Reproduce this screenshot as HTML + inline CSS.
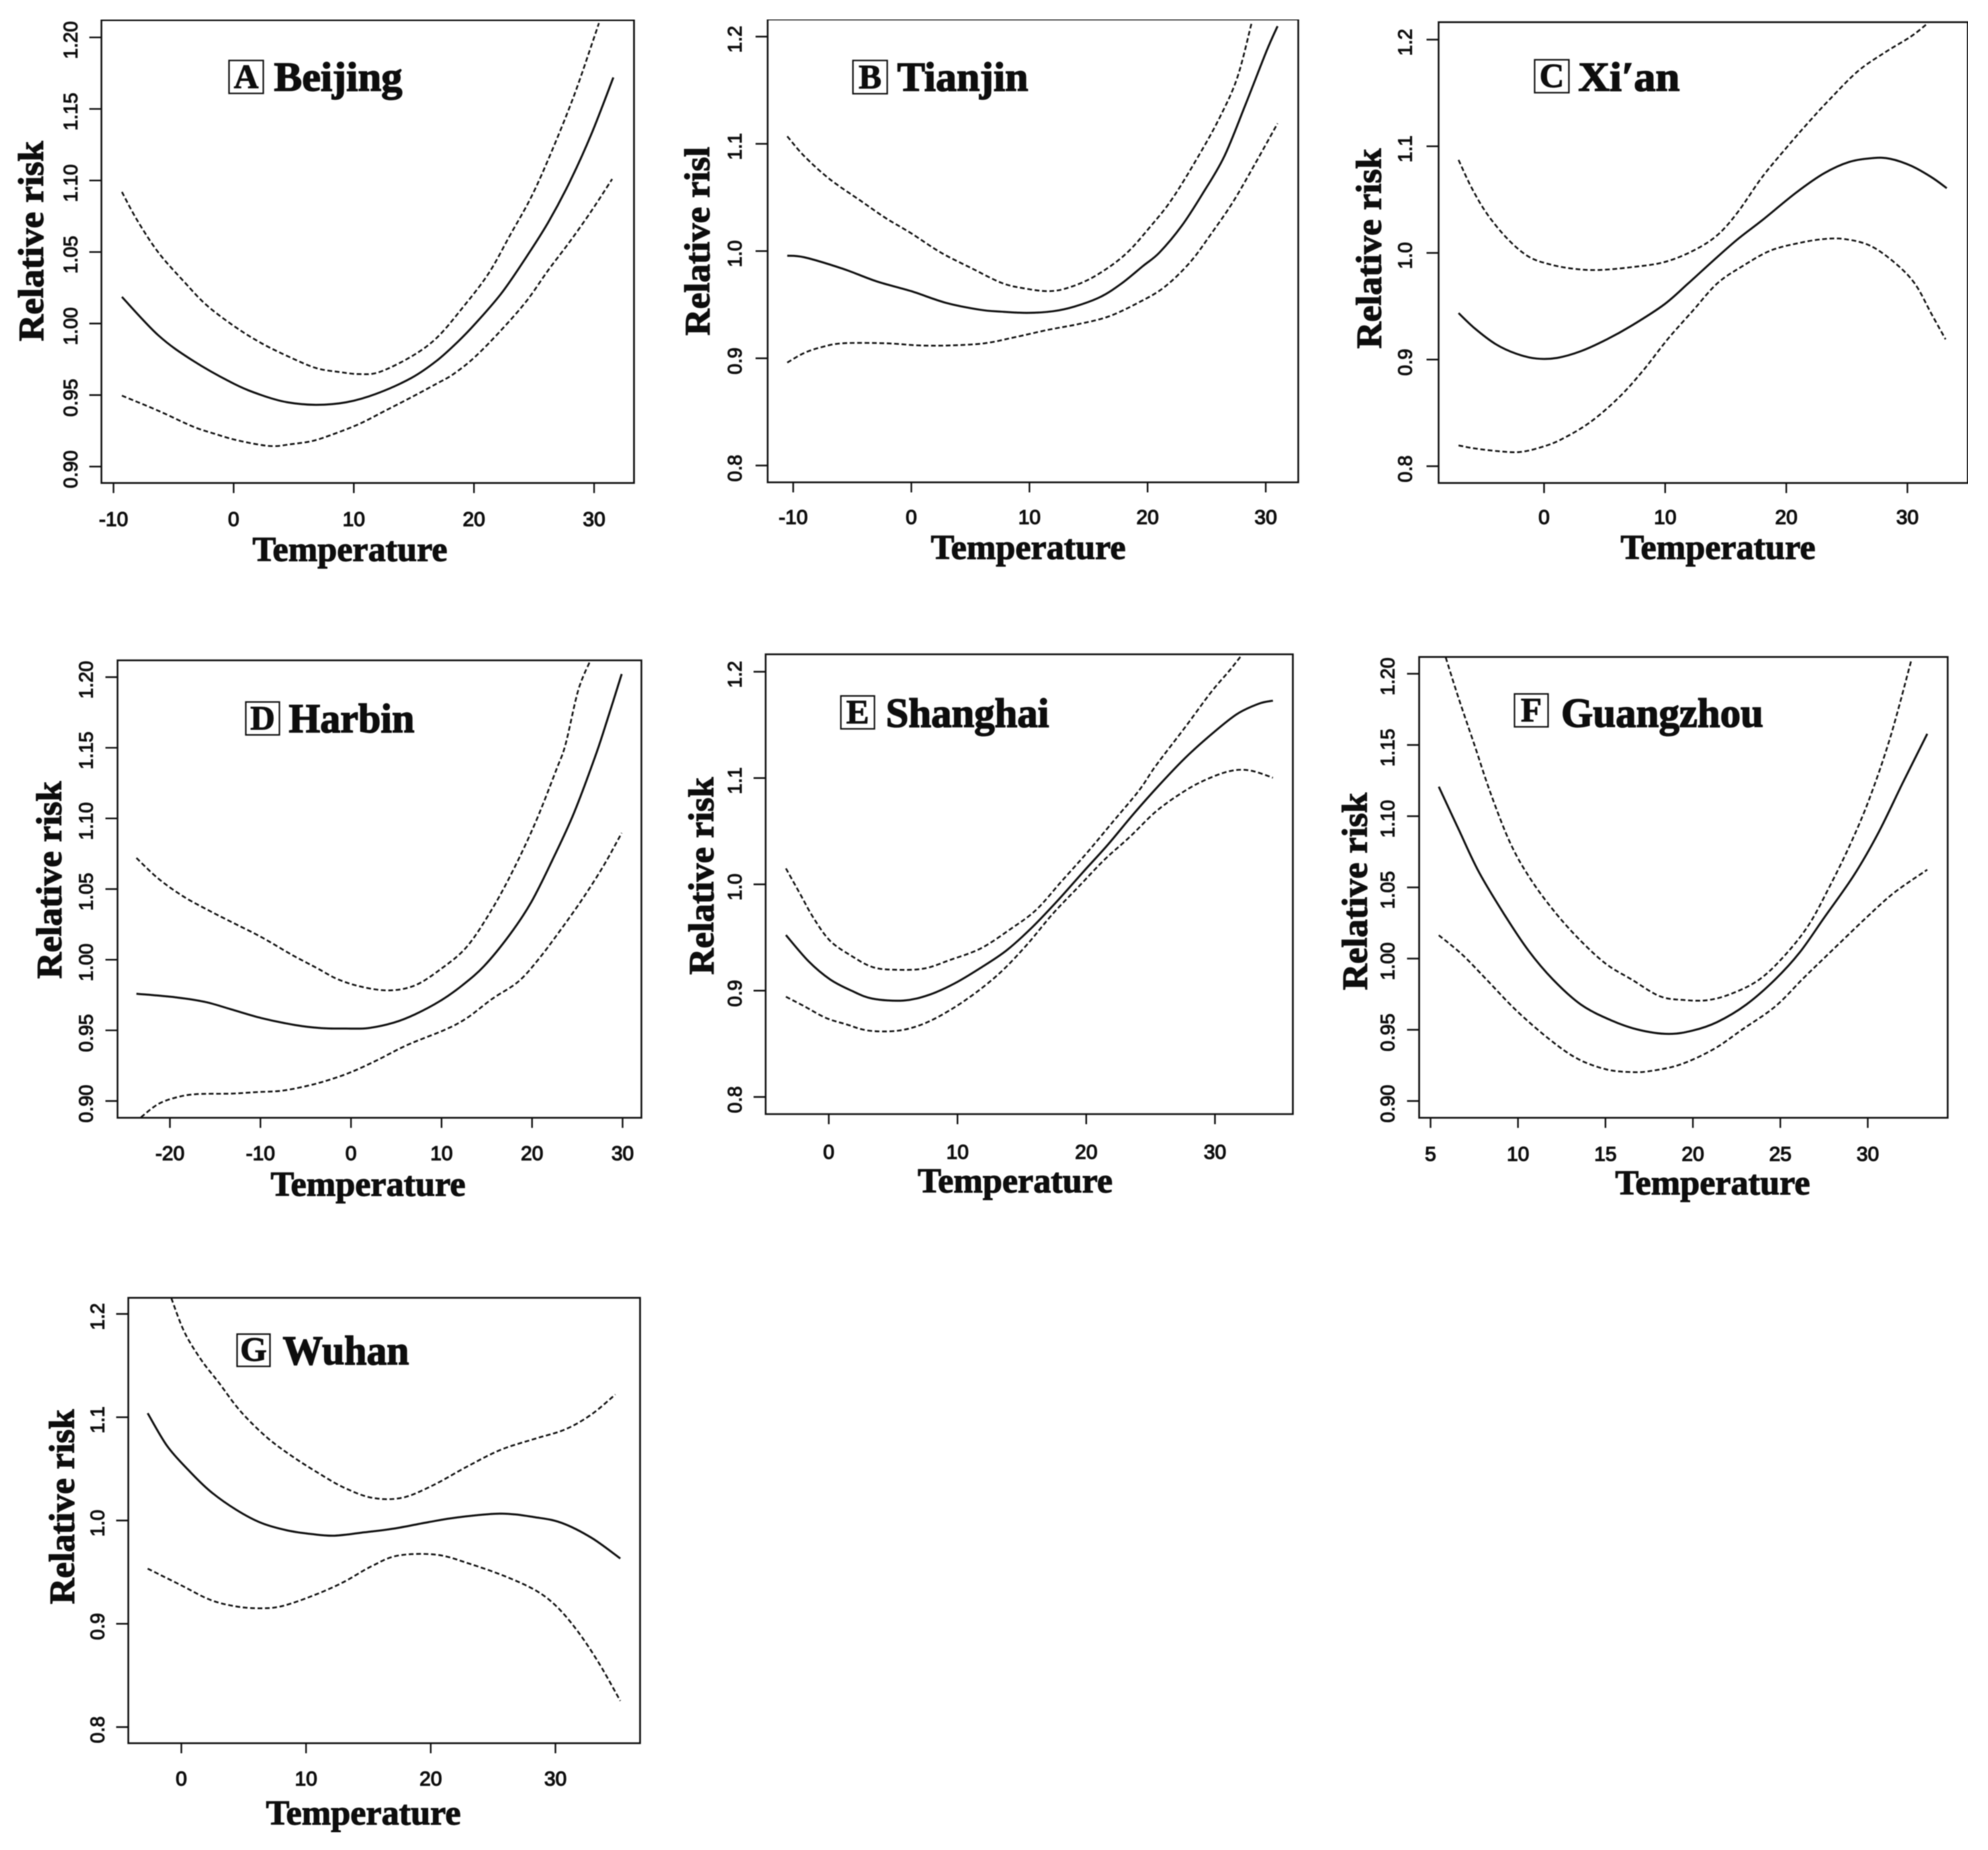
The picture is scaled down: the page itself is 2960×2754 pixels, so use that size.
<!DOCTYPE html>
<html lang="en">
<head>
<meta charset="utf-8">
<title>Relative risk by temperature in seven Chinese cities</title>
<style>
html,body{margin:0;padding:0;background:#fff;}
svg{display:block;}
</style>
</head>
<body>
<svg id="figure" xmlns="http://www.w3.org/2000/svg" width="2960" height="2754" viewBox="0 0 2960 2754">
<defs><filter id="soft" x="0" y="0" width="100%" height="100%"><feGaussianBlur stdDeviation="0.8"/></filter></defs>
<rect width="2960" height="2754" fill="#fff"/>
<g id="root" filter="url(#soft)"></g>
</svg>
<script>
// Tick labels
const yTicksFine = ["0.90","0.95","1.00","1.05","1.10","1.15","1.20"];
const yTicksCoarse = ["0.8","0.9","1.0","1.1","1.2"];
const xTicksA = [-10,0,10,20,30];
const xTicksB = [-10,0,10,20,30];
const xTicksC = [0,10,20,30];
const xTicksD = [-20,-10,0,10,20,30];
const xTicksE = [0,10,20,30];
const xTicksF = [5,10,15,20,25,30];
const xTicksG = [0,10,20,30];

// A Beijing
const tempMidA = [-9.3,-6.26,-3.4,0,2.3,4.44,6.9,9.4,11.9,14.8,16.9,18.7,20.1,22.3,24.4,26.2,28,29.8,31.6];
const rrMidA = [1.0186,0.9917,0.9741,0.958,0.95,0.945,0.9432,0.945,0.951,0.962,0.974,0.9876,0.9998,1.0213,1.047,1.071,1.0995,1.133,1.172];
const tempUpA = [-9.3,-8.05,-6.26,-4.1,-2.3,0,2.3,4.8,6.9,8.9,10.4,12.1,14.8,16.9,19,21.2,23,24.8,26.5,28.3,29.8,30.4];
const rrUpA = [1.092,1.0725,1.0496,1.029,1.0132,0.9984,0.9863,0.976,0.9688,0.966,0.9647,0.966,0.977,0.99,1.0105,1.0348,1.0617,1.089,1.121,1.1587,1.195,1.21];
const tempLowA = [-9.3,-6.26,-3.4,-1.6,0,2,3.4,4.8,6.6,8.4,10.5,12.6,14.8,16.9,18.3,20.1,22.3,24.4,26.2,28,29.8,31.5];
const rrLowA = [0.9496,0.939,0.928,0.923,0.919,0.9155,0.9143,0.9157,0.918,0.923,0.93,0.939,0.9485,0.958,0.9647,0.9768,0.9957,1.016,1.0375,1.0575,1.079,1.101];

// B Tianjin
const tempMidB = [-10.5,-9.06,-5.8,-2.9,0,2.9,5.8,7.6,9.8,12,13.8,16,17.8,19.6,21,22.9,24.7,26.5,28.3,30.1,31];
const rrMidB = [0.9957,0.9942,0.9835,0.9716,0.9626,0.9518,0.9453,0.9435,0.9424,0.9439,0.9482,0.9572,0.9698,0.986,0.9986,1.0237,1.0543,1.0885,1.137,1.1874,1.2097];
const tempUpB = [-10.5,-9.06,-6.9,-4.3,-2.2,0,2.5,5.1,7.6,9.4,11.6,13.4,15.6,18.1,20.3,22.1,24.3,26.1,27.6,28.8];
const rrUpB = [1.107,1.0885,1.067,1.047,1.031,1.0165,0.9986,0.984,0.9705,0.9655,0.9626,0.9662,0.977,0.9968,1.0237,1.049,1.0885,1.1245,1.162,1.2126];
const tempLowB = [-10.5,-9.06,-7.6,-5.8,-2.2,0.7,3.3,6.2,8.7,11.6,14.2,16.7,19.2,21.4,23.6,25.4,27.2,29,31];
const rrLowB = [0.896,0.905,0.9104,0.914,0.914,0.912,0.912,0.914,0.9195,0.9266,0.932,0.939,0.9518,0.9662,0.9896,1.0164,1.0453,1.0795,1.119];

// C Xi'an
const tempMidC = [-7.06,-5.7,-4,-2.3,-0.6,1.1,3.1,5.2,7.2,9.9,11.9,14,16,18.05,20.8,23.1,25.2,27.2,28.6,30.3,32,33.25];
const rrMidC = [0.9436,0.929,0.9145,0.9055,0.9009,0.9016,0.9081,0.919,0.9316,0.9515,0.9714,0.9931,1.013,1.031,1.0564,1.0745,1.0853,1.089,1.0882,1.0817,1.0709,1.0607];
const tempUpC = [-7.06,-6,-4.7,-3,-1.3,0.4,2.4,4.5,7.2,9.9,12.3,14.3,16,18,20.1,21.8,23.5,25.9,28.2,30.3,31.7];
const rrUpC = [1.0872,1.0615,1.0365,1.013,0.9967,0.9895,0.9852,0.984,0.9866,0.9913,1.002,1.0166,1.0383,1.071,1.0998,1.122,1.143,1.1703,1.1884,1.203,1.2155];
const tempLowC = [-7.06,-5.7,-3.7,-2,-0.27,1.4,3.8,6.2,8.2,10.2,12.3,14.3,16.4,18.7,21.1,23.1,24.8,26.9,28.9,30.6,32,33.15];
const rrLowC = [0.8195,0.8166,0.814,0.8133,0.8177,0.825,0.8412,0.8647,0.89,0.919,0.946,0.9714,0.9877,1.0022,1.0094,1.013,1.013,1.0069,0.9913,0.9714,0.9425,0.919];

// D Harbin
const tempMidD = [-23.7,-19.4,-16.1,-13.3,-9.9,-6.2,-3.3,-0.5,1.9,4.7,7.1,9.9,12.3,14.7,17.5,19.9,22.25,24.6,27,28.4,29.9];
const rrMidD = [0.9759,0.9734,0.9701,0.965,0.9587,0.9538,0.9516,0.9513,0.9516,0.9554,0.9614,0.971,0.9819,0.9955,1.0174,1.0406,1.0706,1.1034,1.1443,1.1716,1.2022];
const tempUpD = [-23.7,-21.3,-18.5,-15.6,-13.3,-9.9,-6.6,-3.8,-1.4,1.4,4.3,7.1,9.9,12.8,15.6,18,20.4,22.7,23.7,25.1,26.4];
const rrUpD = [1.072,1.0575,1.0447,1.0345,1.027,1.016,1.0037,0.9942,0.986,0.9805,0.9783,0.9819,0.9933,1.0092,1.036,1.0645,1.0975,1.1348,1.1525,1.1907,1.2112];
const tempLowD = [-23.2,-21.3,-19.2,-17,-13.3,-10.4,-7.6,-4.7,-2.4,0,2.8,6.2,10.4,12.8,15.6,18.5,20.8,23.2,25.6,27.9,29.9];
const rrLowD = [0.8885,0.8978,0.9027,0.9049,0.9052,0.9063,0.9073,0.9109,0.915,0.9204,0.9286,0.9396,0.9505,0.9587,0.9723,0.9846,1.001,1.0215,1.0433,1.0665,1.0897];

// E Shanghai
const tempMidE = [-3.33,-1.56,0.1,1.8,3.4,5.8,7.8,9.8,11.8,13.8,15.8,17.8,19.8,21.7,23.7,25.7,27.7,29.7,31.7,33.4,34.5];
const rrMidE = [0.9523,0.9275,0.9106,0.8998,0.8925,0.8907,0.8961,0.907,0.9215,0.9378,0.9596,0.985,1.0122,1.0376,1.0666,1.0938,1.1191,1.1409,1.1601,1.1699,1.1728];
const tempUpE = [-3.33,-2.2,-1.2,0.1,1.8,3.4,5.1,7.4,9.4,11.8,14.1,16.1,18.1,20.1,22.1,24.1,25.4,27.7,29.7,31.1,32.1];
const rrUpE = [1.015,0.9904,0.9687,0.9469,0.9324,0.9222,0.9197,0.9208,0.9288,0.9397,0.9578,0.9759,1.0031,1.0303,1.0593,1.0883,1.1115,1.1481,1.1808,1.2007,1.216];
const tempLowE = [-3.33,-1.9,-0.23,1.4,3.1,5.4,7.4,9.4,11.4,13.4,15.4,17.4,19.4,21.4,23.4,25.4,27.4,29.1,31.1,32.7,34.5];
const rrLowE = [0.8943,0.8853,0.8744,0.8682,0.8624,0.8624,0.869,0.8816,0.8979,0.9179,0.9433,0.9723,0.9977,1.023,1.0448,1.0684,1.0859,1.0974,1.1064,1.1072,1.1003];

// F Guangzhou
const tempMidF = [5.47,6.6,7.75,9.2,10.6,12,13.6,15.3,16.9,18.6,20,21.4,23.05,24.7,26.1,27.5,29.2,30.6,32,33.4];
const rrMidF = [1.1207,1.0909,1.0611,1.0313,1.0056,0.9853,0.9677,0.9568,0.95,0.9471,0.9495,0.9555,0.9677,0.9853,1.0042,1.0286,1.0584,1.0882,1.1234,1.1578];
const tempUpF = [5.87,6.6,7.5,8.46,9.6,10.8,12.2,13.6,15.05,16.5,18.1,19.5,20.9,22.3,23.8,25.2,26.6,27.8,29,30.1,31.3,32.5];
const rrUpF = [1.2114,1.183,1.1504,1.1152,1.08,1.0543,1.0313,1.0123,0.9961,0.9853,0.9736,0.9709,0.9709,0.9758,0.9853,1.0015,1.0232,1.0502,1.0803,1.1125,1.1559,1.21];
const tempLowF = [5.47,6.8,8.2,9.9,11.8,13.4,15.05,16.5,17.6,19.3,21.2,22.8,24.7,26.35,28,29.9,31.5,33.4];
const rrLowF = [1.0164,1.0029,0.9853,0.9636,0.9433,0.9297,0.9222,0.9203,0.9211,0.9257,0.9365,0.95,0.9663,0.9866,1.0062,1.0286,1.0462,1.0624];

// G Wuhan
const tempMidG = [-2.7,-1.13,0.6,2.3,4.4,6.4,8.5,10.5,12.3,14.7,17.06,19.8,22.2,25.6,28.4,30.5,32.9,35.2];
const rrMidG = [1.1039,1.072,1.0484,1.0285,1.0104,0.9977,0.9904,0.9868,0.9853,0.9886,0.9922,0.9984,1.0031,1.0067,1.0031,0.9977,0.9832,0.9632];
const tempUpG = [-0.8,0.24,1.6,3,4.7,6.8,8.8,10.9,13,15.3,17.7,20.15,22.9,25.6,28.4,30.8,32.9,34.8];
const rrUpG = [1.2152,1.1826,1.1554,1.1336,1.1064,1.0811,1.0629,1.0466,1.0321,1.022,1.022,1.0339,1.0521,1.0684,1.0793,1.0883,1.1028,1.122];
const tempLowG = [-2.7,-0.1,2.3,4.4,6.4,8.1,10.5,12.9,15.3,17.4,20.5,23.2,26,28.4,30.1,31.8,33.5,35.2];
const rrLowG = [0.9534,0.9378,0.9233,0.9168,0.915,0.9172,0.927,0.9397,0.956,0.9661,0.9668,0.9578,0.9458,0.9324,0.9167,0.8925,0.8617,0.8254];

// Page layout of each panel, kept apart from the values above
const layouts = [
 {key:'beijing',letter:'A',city:'Beijing',ylab:'Relative risk',ylen:298,yt:yTicksFine,xt:xTicksA,
  s:[[tempMidA,rrMidA],[tempUpA,rrUpA],[tempLowA,rrLowA]],
  box:[151,944,30,719],xr:[-10,169,30,884.6],yr:[0.9,694.6,1.2,55.7],
  tb:[341,392,90,139],tx:408,tby:135,tw:191,xtc:521,xtb:835,ylx:64,ylc:359,ytx:115,xty:783},
 {key:'tianjin',letter:'B',city:'Tianjin',ylab:'Relative risl',ylen:281,yt:yTicksCoarse,xt:xTicksB,
  s:[[tempMidB,rrMidB],[tempUpB,rrUpB],[tempLowB,rrLowB]],
  box:[1143,1933,29,718],xr:[-10,1181,30,1884.6],yr:[0.8,693,1.2,54.5],
  tb:[1270,1321,90,139.5],tx:1336,tby:135,tw:195,xtc:1531,xtb:832,ylx:1056,ylc:359,ytx:1104,xty:780},
 {key:'xian',letter:'C',city:'Xi\u2032an',ylab:'Relative risk',ylen:298,yt:yTicksCoarse,xt:xTicksC,
  s:[[tempMidC,rrMidC],[tempUpC,rrUpC],[tempLowC,rrLowC]],
  box:[2142,2930,33,719],xr:[0,2299,30,2840],yr:[0.8,694,1.2,59],
  tb:[2285,2336,89,138],tx:2350,tby:135,tw:151,xtc:2558,xtb:832,ylx:2056,ylc:370,ytx:2102,xty:780},
 {key:'harbin',letter:'D',city:'Harbin',ylab:'Relative risk',ylen:294,yt:yTicksFine,xt:xTicksD,
  s:[[tempMidD,rrMidD],[tempUpD,rrUpD],[tempLowD,rrLowD]],
  box:[175,955,983,1664],xr:[-20,253,30,927],yr:[0.9,1639,1.2,1008],
  tb:[366,416,1045,1094],tx:430,tby:1090,tw:187,xtc:548,xtb:1780,ylx:91,ylc:1310,ytx:138,xty:1727},
 {key:'shanghai',letter:'E',city:'Shanghai',ylab:'Relative risk',ylen:294,yt:yTicksCoarse,xt:xTicksE,
  s:[[tempMidE,rrMidE],[tempUpE,rrUpE],[tempLowE,rrLowE]],
  box:[1140,1925,974,1658.5],xr:[0,1234,30,1809],yr:[0.8,1633,1.2,1000],
  tb:[1252,1302,1036,1085],tx:1319,tby:1082,tw:243,xtc:1511.5,xtb:1775,ylx:1062,ylc:1304,ytx:1104,xty:1725},
 {key:'guangzhou',letter:'F',city:'Guangzhou',ylab:'Relative risk',ylen:294,yt:yTicksFine,xt:xTicksF,
  s:[[tempMidF,rrMidF],[tempUpF,rrUpF],[tempLowF,rrLowF]],
  box:[2113,2900,978,1664],xr:[5,2130,30,2781],yr:[0.9,1639,1.2,1003],
  tb:[2255,2305,1033,1082],tx:2324.5,tby:1082,tw:301,xtc:2550,xtb:1778,ylx:2035,ylc:1327,ytx:2076,xty:1728},
 {key:'wuhan',letter:'G',city:'Wuhan',ylab:'Relative risk',ylen:290,yt:yTicksCoarse,xt:xTicksG,
  s:[[tempMidG,rrMidG],[tempUpG,rrUpG],[tempLowG,rrLowG]],
  box:[191,953,1932,2595],xr:[0,270,30,827],yr:[0.8,2571,1.2,1956],
  tb:[353,402,1986,2034],tx:421,tby:2031,tw:188,xtc:541,xtb:2716,ylx:110,ylc:2243,ytx:155,xty:2658}
];

const NS = 'http://www.w3.org/2000/svg';
const INK = '#0c0c0c';
const SANS = '"Liberation Sans", Arial, sans-serif';
const SERIF = '"Liberation Serif", "Times New Roman", serif';
const root = document.getElementById('root');

function make(tag, parent, attrs, text) {
  const node = document.createElementNS(NS, tag);
  for (const k in attrs) node.setAttribute(k, attrs[k]);
  if (text !== undefined) node.textContent = text;
  parent.appendChild(node);
  return node;
}
function linear(ref) {
  const k = (ref[3] - ref[1]) / (ref[2] - ref[0]);
  return v => ref[1] + (v - ref[0]) * k;
}
function smoothPath(pts) {
  let d = 'M' + pts[0][0].toFixed(2) + ' ' + pts[0][1].toFixed(2);
  for (let i = 0; i < pts.length - 1; i++) {
    const p0 = pts[Math.max(i - 1, 0)], p1 = pts[i], p2 = pts[i + 1], p3 = pts[Math.min(i + 2, pts.length - 1)];
    const c1x = p1[0] + (p2[0] - p0[0]) / 6, c1y = p1[1] + (p2[1] - p0[1]) / 6;
    const c2x = p2[0] - (p3[0] - p1[0]) / 6, c2y = p2[1] - (p3[1] - p1[1]) / 6;
    d += 'C' + c1x.toFixed(2) + ' ' + c1y.toFixed(2) + ' ' + c2x.toFixed(2) + ' ' + c2y.toFixed(2) + ' ' + p2[0].toFixed(2) + ' ' + p2[1].toFixed(2);
  }
  return d;
}

layouts.forEach(function (p) {
  const xs = linear(p.xr), ys = linear(p.yr);
  const [l, r, t, b] = p.box;

  const g = make('g', root, {});
  
  

  const clip = make('clipPath', g, {id: 'clip-' + p.key});
  make('rect', clip, {x: l, y: t, width: r - l, height: b - t});

  const frame = make('rect', g, {x: l, y: t, width: r - l, height: b - t, fill: 'none', stroke: INK, 'stroke-width': 2.6});
  
  

  p.yt.forEach(function (label) {
    const y = ys(Number(label));
    const tick = make('line', g, {x1: l - 18, x2: l, y1: y, y2: y, stroke: INK, 'stroke-width': 2.4});
    
    
    const cy = y + 4;
    const txt = make('text', g, {x: p.ytx, y: cy, transform: 'rotate(-90 ' + p.ytx + ' ' + cy + ')', 'text-anchor': 'middle', 'font-family': SANS, 'font-size': 29, fill: INK, stroke: INK, 'stroke-width': 1.1}, label);
    
    
  });

  p.xt.forEach(function (value) {
    const x = xs(value);
    const tick = make('line', g, {x1: x, x2: x, y1: b, y2: b + 15, stroke: INK, 'stroke-width': 2.4});
    
    
    const txt = make('text', g, {x: x, y: p.xty, 'text-anchor': 'middle', 'font-family': SANS, 'font-size': 30, fill: INK, stroke: INK, 'stroke-width': 1.3}, String(value));
    
    
  });

  const seriesNames = ['relative-risk-line', 'upper-confidence-line', 'lower-confidence-line'];
  p.s.forEach(function (series, i) {
    const pts = series[0].map((temp, j) => [xs(temp), ys(series[1][j])]);
    const attrs = {d: smoothPath(pts), fill: 'none', stroke: INK, 'stroke-width': i === 0 ? 3 : 2.6, 'clip-path': 'url(#clip-' + p.key + ')'};
    if (i > 0) attrs['stroke-dasharray'] = '7 4';
    const line = make('path', g, attrs);
    
    
  });

  const letterBox = make('rect', g, {x: p.tb[0], y: p.tb[2], width: p.tb[1] - p.tb[0], height: p.tb[3] - p.tb[2], fill: 'none', stroke: INK, 'stroke-width': 2.2});
  
  

  const letter = make('text', g, {x: (p.tb[0] + p.tb[1]) / 2, y: p.tb[3] - 8, 'text-anchor': 'middle', 'font-family': SERIF, 'font-weight': 'bold', 'font-size': 51, fill: INK, stroke: INK, 'stroke-width': 1}, p.letter);
  
  

  const city = make('text', g, {x: p.tx, y: p.tby, textLength: p.tw, lengthAdjust: 'spacingAndGlyphs', 'font-family': SERIF, 'font-weight': 'bold', 'font-size': 61, fill: INK, stroke: INK, 'stroke-width': 1.6}, p.city);
  
  

  const xTitle = make('text', g, {x: p.xtc, y: p.xtb, 'text-anchor': 'middle', textLength: 290, lengthAdjust: 'spacingAndGlyphs', 'font-family': SERIF, 'font-weight': 'bold', 'font-size': 52, fill: INK, stroke: INK, 'stroke-width': 1.2}, 'Temperature');
  
  

  const yTitle = make('text', g, {x: p.ylx, y: p.ylc, transform: 'rotate(-90 ' + p.ylx + ' ' + p.ylc + ')', 'text-anchor': 'middle', textLength: p.ylen, lengthAdjust: 'spacingAndGlyphs', 'font-family': SERIF, 'font-weight': 'bold', 'font-size': 53, fill: INK, stroke: INK, 'stroke-width': 1.2}, p.ylab);
  
  
});
</script>
</body>
</html>
